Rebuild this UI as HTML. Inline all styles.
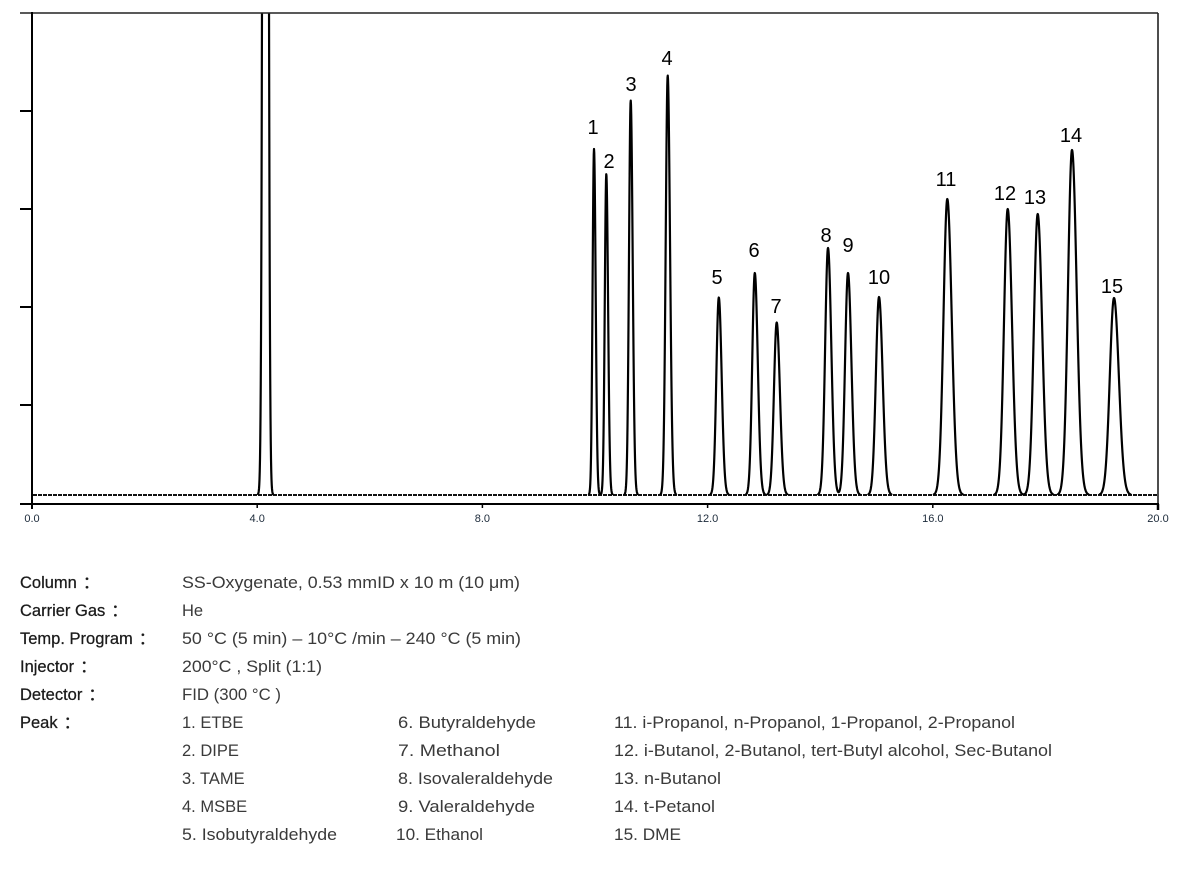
<!DOCTYPE html>
<html>
<head>
<meta charset="utf-8">
<style>
  html,body{margin:0;padding:0;background:#fff;}
  body{width:1200px;height:879px;overflow:hidden;}
  svg{display:block;}
  .tick{font-family:"Liberation Sans",sans-serif;font-size:11px;fill:#1c2a3a;}
  .pl{font-family:"Liberation Sans",sans-serif;font-size:20px;fill:#000;}
  .lab{font-family:"Liberation Sans","Noto Sans CJK SC",sans-serif;font-size:16.5px;fill:#1a1a1a;stroke:#1a1a1a;stroke-width:0.25px;}
  .val{font-family:"Liberation Sans","Noto Sans CJK SC",sans-serif;font-size:16.5px;fill:#3a3a3a;}
</style>
</head>
<body>
<svg id="chart" width="1200" height="879" viewBox="0 0 1200 879" xmlns="http://www.w3.org/2000/svg">
  <defs>
    <clipPath id="plot"><rect x="32" y="13" width="1126" height="491"/></clipPath>
  </defs>
  <rect x="0" y="0" width="1200" height="879" fill="#fff"/>

  <line x1="33" y1="495" x2="1157" y2="495" stroke="#111" stroke-width="2" stroke-dasharray="4 1"/>

  <g clip-path="url(#plot)">
    <path id="trace" d="" fill="none" stroke="#000" stroke-width="2.2" stroke-linejoin="round"/>
  </g>

  <line x1="20" y1="13" x2="1158" y2="13" stroke="#222" stroke-width="1.6"/>
  <line x1="1158" y1="13" x2="1158" y2="504" stroke="#222" stroke-width="1.6"/>
  <line x1="32" y1="12" x2="32" y2="509" stroke="#000" stroke-width="2"/>
  <line x1="20" y1="504" x2="1159" y2="504" stroke="#000" stroke-width="2"/>
  <line x1="20" y1="111" x2="32" y2="111" stroke="#000" stroke-width="2"/>
  <line x1="20" y1="209" x2="32" y2="209" stroke="#000" stroke-width="2"/>
  <line x1="20" y1="307" x2="32" y2="307" stroke="#000" stroke-width="2"/>
  <line x1="20" y1="405" x2="32" y2="405" stroke="#000" stroke-width="2"/>
  <line x1="257.2" y1="504" x2="257.2" y2="508" stroke="#000" stroke-width="1.5"/>
  <line x1="482.4" y1="504" x2="482.4" y2="508" stroke="#000" stroke-width="1.5"/>
  <line x1="707.6" y1="504" x2="707.6" y2="508" stroke="#000" stroke-width="1.5"/>
  <line x1="932.8" y1="504" x2="932.8" y2="508" stroke="#000" stroke-width="1.5"/>
  <line x1="1158" y1="504" x2="1158" y2="510" stroke="#000" stroke-width="2.5"/>

  <text class="tick" x="32" y="522" text-anchor="middle">0.0</text>
  <text class="tick" x="257.2" y="522" text-anchor="middle">4.0</text>
  <text class="tick" x="482.4" y="522" text-anchor="middle">8.0</text>
  <text class="tick" x="707.6" y="522" text-anchor="middle">12.0</text>
  <text class="tick" x="932.8" y="522" text-anchor="middle">16.0</text>
  <text class="tick" x="1158" y="522" text-anchor="middle">20.0</text>

  <text class="pl" x="593" y="134" text-anchor="middle">1</text>
  <text class="pl" x="609" y="168" text-anchor="middle">2</text>
  <text class="pl" x="631" y="91" text-anchor="middle">3</text>
  <text class="pl" x="667" y="65" text-anchor="middle">4</text>
  <text class="pl" x="717" y="284" text-anchor="middle">5</text>
  <text class="pl" x="754" y="257" text-anchor="middle">6</text>
  <text class="pl" x="776" y="313" text-anchor="middle">7</text>
  <text class="pl" x="826" y="242" text-anchor="middle">8</text>
  <text class="pl" x="848" y="252" text-anchor="middle">9</text>
  <text class="pl" x="879" y="284" text-anchor="middle">10</text>
  <text class="pl" x="946" y="186" text-anchor="middle">11</text>
  <text class="pl" x="1005" y="200" text-anchor="middle">12</text>
  <text class="pl" x="1035" y="204" text-anchor="middle">13</text>
  <text class="pl" x="1071" y="142" text-anchor="middle">14</text>
  <text class="pl" x="1112" y="293" text-anchor="middle">15</text>

  <text class="lab" x="20" y="588">Column<tspan dx="6">：</tspan></text>
  <text class="lab" x="20" y="616">Carrier Gas<tspan dx="6">：</tspan></text>
  <text class="lab" x="20" y="644">Temp. Program<tspan dx="6">：</tspan></text>
  <text class="lab" x="20" y="672">Injector<tspan dx="6">：</tspan></text>
  <text class="lab" x="20" y="700">Detector<tspan dx="6">：</tspan></text>
  <text class="lab" x="20" y="728">Peak<tspan dx="6">：</tspan></text>

  <text class="val" x="182" y="588" textLength="338" lengthAdjust="spacingAndGlyphs">SS-Oxygenate, 0.53 mmID x 10 m (10 μm)</text>
  <text class="val" x="182" y="616">He</text>
  <text class="val" x="182" y="644" textLength="339" lengthAdjust="spacingAndGlyphs">50 °C (5 min) – 10°C /min – 240 °C (5 min)</text>
  <text class="val" x="182" y="672" textLength="140" lengthAdjust="spacingAndGlyphs">200°C , Split (1:1)</text>
  <text class="val" x="182" y="700" textLength="99" lengthAdjust="spacingAndGlyphs">FID (300 °C )</text>

  <text class="val" x="182" y="728">1. ETBE</text>
  <text class="val" x="182" y="756">2. DIPE</text>
  <text class="val" x="182" y="784">3. TAME</text>
  <text class="val" x="182" y="812">4. MSBE</text>
  <text class="val" x="182" y="840" textLength="155" lengthAdjust="spacingAndGlyphs">5. Isobutyraldehyde</text>

  <text class="val" x="398" y="728" textLength="138" lengthAdjust="spacingAndGlyphs">6. Butyraldehyde</text>
  <text class="val" x="398" y="756" textLength="102" lengthAdjust="spacingAndGlyphs">7. Methanol</text>
  <text class="val" x="398" y="784" textLength="155" lengthAdjust="spacingAndGlyphs">8. Isovaleraldehyde</text>
  <text class="val" x="398" y="812" textLength="137" lengthAdjust="spacingAndGlyphs">9. Valeraldehyde</text>
  <text class="val" x="396" y="840" textLength="87" lengthAdjust="spacingAndGlyphs">10. Ethanol</text>

  <text class="val" x="614" y="728" textLength="401" lengthAdjust="spacingAndGlyphs">11. i-Propanol, n-Propanol, 1-Propanol, 2-Propanol</text>
  <text class="val" x="614" y="756" textLength="438" lengthAdjust="spacingAndGlyphs">12. i-Butanol, 2-Butanol, tert-Butyl alcohol, Sec-Butanol</text>
  <text class="val" x="614" y="784" textLength="107" lengthAdjust="spacingAndGlyphs">13. n-Butanol</text>
  <text class="val" x="614" y="812" textLength="101" lengthAdjust="spacingAndGlyphs">14. t-Petanol</text>
  <text class="val" x="614" y="840" textLength="67" lengthAdjust="spacingAndGlyphs">15. DME</text>
</svg>
<script>
(function(){
  var base = 495;
  var peaks = [
    [594, 149, 1.5],
    [606.3, 174, 1.6],
    [630.7, 100.5, 1.8],
    [667.7, 75.5, 2.1],
    [718.8, 297.5, 2.6],
    [754.8, 273, 2.7],
    [776.7, 322.5, 2.9],
    [828, 248, 3.0],
    [848, 273, 3.1],
    [879, 297, 3.3],
    [947.3, 199, 4.0],
    [1007.7, 209, 3.9],
    [1037.7, 214, 4.0],
    [1072, 150, 4.2],
    [1114, 298, 4.4]
  ];
  function shape(d, s){
    var ss = d < 0 ? s*0.95 : s*1.1;
    return Math.exp(-d*d/(2*ss*ss));
  }
  var d = "";
  var inSeg = false;
  for (var x = 33; x <= 1157; x += 0.25){
    var y = 0;
    var ds = x - 265.5;
    y += 3000*Math.exp(-ds*ds/(2*1.85*1.85));
    for (var i = 0; i < peaks.length; i++){
      var p = peaks[i];
      var dd = x - p[0];
      if (Math.abs(dd) < 60) y += (base - p[1]) * shape(dd, p[2]);
    }
    if (y > 0.5){
      var yy = Math.max(base - y, 0);
      if (!inSeg){ d += "M" + (x-0.25).toFixed(2) + " " + base + " "; inSeg = true; }
      d += "L" + x.toFixed(2) + " " + yy.toFixed(2) + " ";
    } else if (inSeg){
      d += "L" + x.toFixed(2) + " " + base + " ";
      inSeg = false;
    }
  }
  document.getElementById("trace").setAttribute("d", d);
})();
</script>
</body>
</html>
